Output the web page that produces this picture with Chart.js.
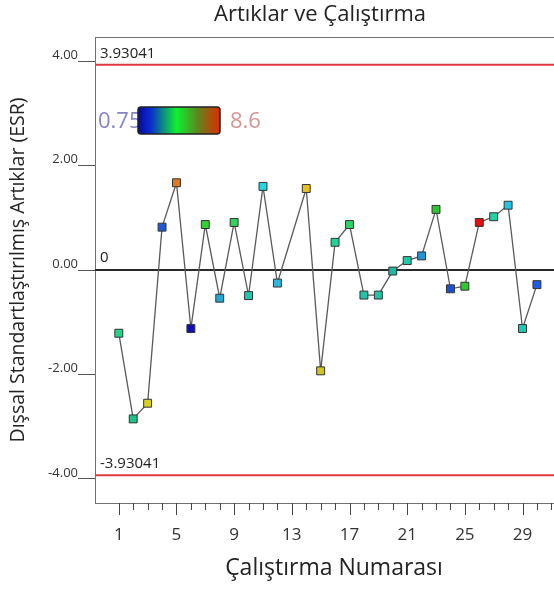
<!DOCTYPE html>
<html><head><meta charset="utf-8">
<script src="https://cdn.jsdelivr.net/npm/chart.js@4/dist/chart.umd.min.js"></script>
<style>
html,body{margin:0;padding:0;background:#fff;overflow:hidden}
#wrap{width:554px;height:590px;overflow:hidden;position:relative}
#c{position:absolute;left:0;top:0;width:650px;height:590px}
</style></head>
<body><div id="wrap"><canvas id="c" width="650" height="590"></canvas></div>
<script>
// ---- data ----
const runs = [1,2,3,4,5,6,7,8,9,10,11,12,13,14,15,16,17,18,19,20,21,22,23,24,25,26,27,28,29,30];
const esr = [-1.21,-2.85,-2.55,0.82,1.67,-1.12,0.87,-0.54,0.91,-0.49,1.60,-0.25,null,1.56,-1.93,0.53,0.87,-0.48,-0.48,-0.02,0.18,0.27,1.16,-0.36,-0.31,0.91,1.02,1.24,-1.12,-0.28];
const pointColors = ['#22d488','#20c488','#d8d020','#1e5ad8','#e07a1e','#1010b4','#34d034','#22a8d4','#30d458','#20c8b0','#22d8e4','#30b8d8','#888888','#e8c020','#d0c41e','#22d494','#30d064','#20c4a8','#20c4a8','#20b8a0','#22c8a4','#2494d8','#30c430','#1c50d4','#30c830','#e41010','#22d0a4','#22c4e4','#20c8b0','#1e5ce4'];
const limit = 3.93041;
const yTicks = [-4,-2,0,2,4];
const xTicks = [1,5,9,13,17,21,25,29];
const xRange = [-0.65, 32.5];
const yRange = [-4.46, 4.46];
const colorScaleLabels = ['0.75','8.6'];
const titleText = 'Artıklar ve Çalıştırma';
const xTitle = 'Çalıştırma Numarası';
const yTitle = 'Dışsal Standartlaştırılmış Artıklar (ESR)';

const series = runs.map((r,i)=>({x:r,y:esr[i]}));
const hline = v => [{x:xRange[0],y:v},{x:xRange[1],y:v}];
const FONT = '"Open Sans"';

const decor = {
  id:'decor',
  beforeDatasetsDraw(chart){
    const {ctx, chartArea:a, scales:{x,y}} = chart;
    ctx.save();
    // chart title
    ctx.fillStyle='#222'; ctx.font='22px '+FONT; ctx.textAlign='center'; ctx.textBaseline='middle';
    ctx.fillText(titleText, 320, 15);
    ctx.strokeStyle='#707070'; ctx.lineWidth=1;
    ctx.strokeRect(Math.round(a.left)+0.5, Math.round(a.top)+0.5, a.right-a.left, a.bottom-a.top);
    // limit labels
    ctx.fillStyle='#222'; ctx.font='15px '+FONT; ctx.textBaseline='middle'; ctx.textAlign='left';
    ctx.fillText(String(limit), a.left+5, y.getPixelForValue(limit)-11);
    ctx.fillText('-'+String(limit), a.left+5, y.getPixelForValue(-limit)-12);
    ctx.fillText('0', a.left+5, y.getPixelForValue(0)-12);
    // colour scale legend
    const lx = a.left+43, ly = a.top+70, lw = 82, lh = 27;
    ctx.font='22px '+FONT; ctx.textBaseline='middle';
    ctx.fillStyle='rgba(110,110,190,0.85)';
    ctx.fillText(colorScaleLabels[0], a.left+3, ly+lh/2+1);
    ctx.fillStyle='rgba(205,130,130,0.85)';
    ctx.fillText(colorScaleLabels[1], lx+lw+10, ly+lh/2+1);
    const g = ctx.createLinearGradient(lx,0,lx+lw,0);
    g.addColorStop(0,'#0a0a9a'); g.addColorStop(0.15,'#0a2ad0'); g.addColorStop(0.47,'#10f030');
    g.addColorStop(0.72,'#5a8a20'); g.addColorStop(1,'#e02a00');
    ctx.fillStyle=g; ctx.strokeStyle='#222'; ctx.lineWidth=1.5;
    ctx.beginPath(); ctx.roundRect(lx,ly,lw,lh,3); ctx.fill(); ctx.stroke();
    ctx.restore();
  },
  afterDraw(chart){
    const {ctx, chartArea:a, scales:{x}} = chart;
    ctx.save(); ctx.strokeStyle='#444'; ctx.lineWidth=1;
    for(let v=Math.ceil(xRange[0]); v<=xRange[1]; v++){
      if(v<1) continue;
      const px = Math.round(x.getPixelForValue(v))+0.5;
      const len = ((v-1)%4===0)?12:7;
      ctx.beginPath(); ctx.moveTo(px,a.bottom); ctx.lineTo(px,a.bottom+len); ctx.stroke();
    }
    ctx.restore();
  }
};

new Chart(document.getElementById('c'), {
  type:'line',
  data:{datasets:[
    {data:series, order:0, borderColor:'#5a5a5a', borderWidth:1.3, spanGaps:true,
     pointStyle:'rect', pointRadius:5.6, pointBackgroundColor:pointColors, pointBorderColor:'#333', pointBorderWidth:1},
    {data:hline(limit), order:2, borderColor:'#e0393e', borderWidth:2, pointRadius:0},
    {data:hline(-limit), order:2, borderColor:'#e0393e', borderWidth:2, pointRadius:0},
    {data:hline(0), order:1, borderColor:'#2a2a2a', borderWidth:2, pointRadius:0}
  ]},
  options:{
    responsive:false, animation:false, devicePixelRatio:1,
    layout:{padding:{left:0,right:77,top:37,bottom:0}},
    plugins:{ legend:{display:false}, tooltip:{enabled:false}, title:{display:false} },
    scales:{
      x:{type:'linear', min:xRange[0], max:xRange[1],
        afterBuildTicks:s=>{s.ticks=xTicks.map(v=>({value:v}));},
        afterFit:s=>{s.height=87;},
        grid:{display:false}, border:{display:false},
        ticks:{color:'#333', font:{family:'Open Sans', size:17}, padding:14.4, maxRotation:0, autoSkip:false},
        title:{display:true, text:xTitle, color:'#222', font:{family:'Open Sans', size:23}, padding:{top:0,bottom:8}}
      },
      y:{type:'linear', min:yRange[0], max:yRange[1],
        afterBuildTicks:s=>{s.ticks=yTicks.map(v=>({value:v}));},
        afterFit:s=>{s.width=95;},
        grid:{drawOnChartArea:false, drawTicks:true, tickLength:17, color:'#555'}, border:{display:false},
        ticks:{color:'#333', font:{family:'Open Sans', size:13}, padding:0, labelOffset:-6, callback:v=>v.toFixed(2)},
        title:{display:true, text:yTitle, color:'#222', font:{family:'Open Sans', size:19.5}, padding:{top:7,bottom:0}}
      }
    }
  },
  plugins:[decor]
});
</script></body></html>
